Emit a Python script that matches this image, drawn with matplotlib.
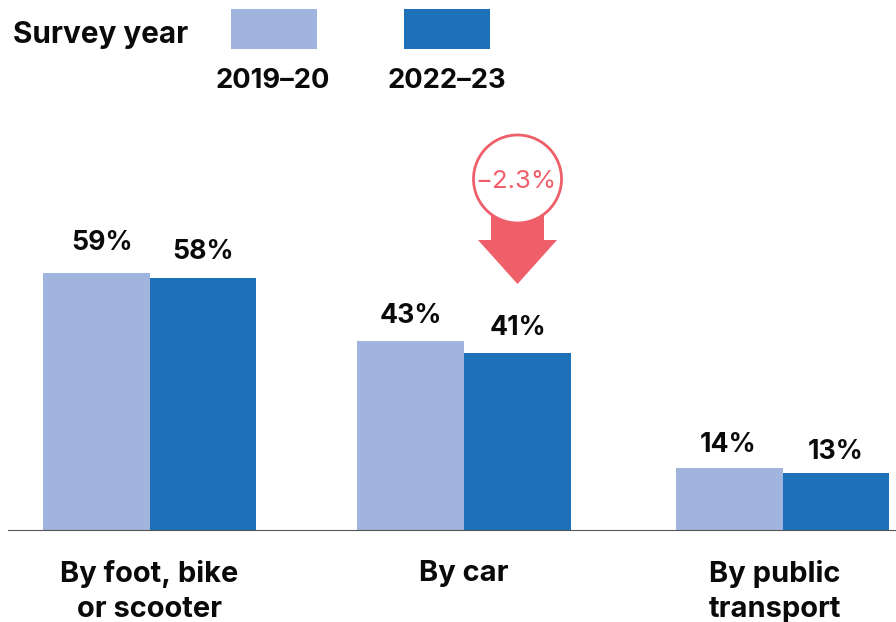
import matplotlib
matplotlib.use("Agg")
import matplotlib.pyplot as plt
from matplotlib.patches import Rectangle, Circle, Polygon

categories = ["By foot, bike\nor scooter", "By car", "By public\ntransport"]
series_names = ["2019–20", "2022–23"]
values_2019 = [59.0, 43.5, 14.3]
values_2022 = [57.9, 40.7, 13.2]
labels_2019 = ["59%", "43%", "14%"]
labels_2022 = ["58%", "41%", "13%"]
colors = ["#a0b4de", "#1c71b9"]
accent = "#ee5f6a"
change_label = "−2.3%"

plt.rcParams['font.family'] = ['Inter', 'DejaVu Sans']
W, H = 896, 622
fig = plt.figure(figsize=(W/100, H/100), dpi=100)
bg = fig.add_axes([0, 0, 1, 1])
bg.set_xlim(0, W); bg.set_ylim(H, 0); bg.axis('off')

baseline = 530.4
px_per_pct = (baseline - 273) / 59
ax_top = 100
ax = fig.add_axes([8/W, 1 - baseline/H, (W-8)/W, (baseline-ax_top)/H])
ax.patch.set_alpha(0)
step = (782.5 - 149.5) / 2
bw = 106.7
ax.set_xlim((8 - 149.5)/step, (W - 149.5)/step)
ax.set_ylim(0, (baseline-ax_top)/px_per_pct)
x = [0, (464.1-149.5)/step, 2]
w = bw/step
ax.bar([i - w/2 for i in x], values_2019, w, color=colors[0])
ax.bar([i + w/2 for i in x], values_2022, w, color=colors[1])
for s in ['top', 'left', 'right']:
    ax.spines[s].set_visible(False)
ax.spines['bottom'].set_color('#555555')
ax.spines['bottom'].set_linewidth(0.8)
ax.set_yticks([])
ax.set_xticks([0, x[1], (775-149.5)/step])
ax.set_xticklabels(categories, fontsize=20.9, fontweight='bold', color='#0a0a0a', linespacing=1.38, va='top')
ax.tick_params(axis='x', length=0, pad=21.5)

# value labels: pixel offset of each label from its bar top
rise_2019, rise_2022 = [30, 25, 23], [26, 25, 21]
shift_2019 = [6, 0, -1]
kw = dict(textcoords='offset pixels', ha='center', va='center', fontsize=19.2, fontweight='bold', color='#0a0a0a')
for i, (a, b) in enumerate(zip(values_2019, values_2022)):
    ax.annotate(labels_2019[i], (x[i]-w/2, a), xytext=(shift_2019[i], rise_2019[i]), **kw)
    ax.annotate(labels_2022[i], (x[i]+w/2, b), xytext=(0, rise_2022[i]), **kw)

bg.text(13, 35, "Survey year", fontsize=21.4, fontweight='bold', va='center', color='#0a0a0a')
bg.add_patch(Rectangle((231, 9), 86, 40, color=colors[0], lw=0))
bg.add_patch(Rectangle((404, 9), 86, 40, color=colors[1], lw=0))
bg.text(273, 81, series_names[0], fontsize=19.7, fontweight='bold', ha='center', va='center', color='#0a0a0a')
bg.text(447, 81, series_names[1], fontsize=19.7, fontweight='bold', ha='center', va='center', color='#0a0a0a')

bg.add_patch(Polygon([(491, 200), (544, 200), (544, 240), (557, 240), (517.5, 284), (478, 240), (491, 240)], color=accent, lw=0))
bg.add_patch(Circle((517.5, 179), 44, fc='white', ec=accent, lw=2))
bg.text(516, 181, change_label, fontsize=18.5, ha='center', va='center', color=accent, fontweight='normal')

fig.savefig("out.png", dpi=100)
